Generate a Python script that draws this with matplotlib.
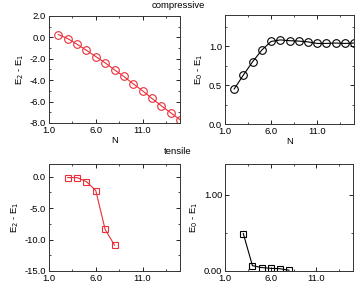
import numpy as np
import matplotlib
matplotlib.use("Agg")
import matplotlib.pyplot as plt
from matplotlib.ticker import FixedLocator, MultipleLocator, FormatStrFormatter

plt.rcParams['font.family'] = ['Liberation Sans', 'DejaVu Sans']
plt.rcParams['font.size'] = 6.8

# compressive
n_comp = [2, 3, 4, 5, 6, 7, 8, 9, 10, 11, 12, 13, 14, 15]
e21_comp = [0.26, -0.11, -0.64, -1.2, -1.79, -2.38, -3.03, -3.65, -4.34, -4.99,
            -5.7, -6.39, -7.04, -7.69]
e01_comp = [0.45, 0.63, 0.80, 0.95, 1.06, 1.08, 1.07, 1.065, 1.055, 1.035,
            1.035, 1.04, 1.035, 1.04]

# tensile
n_tens = [3, 4, 5, 6, 7, 8]
e21_tens = [-0.16, -0.16, -0.8, -2.23, -8.4, -10.9]
e01_tens = [0.49, 0.07, 0.045, 0.035, 0.03, 0.01]

x_ticks = [1, 6, 11]

W, H = 356, 286
fig = plt.figure(figsize=(W / 100, H / 100), dpi=100)


def box(x0, y0, x1, y1):
    return [x0 / W, 1 - y1 / H, (x1 - x0) / W, (y1 - y0) / H]


def style(ax, ylim, ymaj, ymin, yfmt):
    ax.set_xlim(1, 15)
    ax.set_ylim(*ylim)
    ax.xaxis.set_major_locator(FixedLocator(x_ticks))
    ax.xaxis.set_minor_locator(FixedLocator([3.5, 8.5, 13.5]))
    ax.xaxis.set_major_formatter(FormatStrFormatter('%.1f'))
    ax.yaxis.set_major_locator(MultipleLocator(ymaj))
    ax.yaxis.set_minor_locator(MultipleLocator(ymin))
    ax.yaxis.set_major_formatter(FormatStrFormatter(yfmt))
    ax.tick_params(which='both', direction='in', top=True, right=True,
                   labelsize=6.8, pad=2)
    ax.tick_params(which='major', length=3, width=0.6)
    ax.tick_params(which='minor', length=1.5, width=0.5)
    for s in ax.spines.values():
        s.set_linewidth(0.7)
        s.set_color('#333333')


red = '#e8303a'

ax1 = fig.add_axes(box(49, 16, 180, 123))
ax1.plot(n_comp, e21_comp, '-o', color=red, mfc='none', ms=5.5, lw=0.8, mew=0.8)
style(ax1, (-8, 2), 2, 1, '%.1f')
ax1.set_ylabel('E$_2$ - E$_1$', labelpad=3)
ax1.set_xlabel('N', labelpad=1)

ax2 = fig.add_axes(box(225, 15, 354, 124))
ax2.plot(n_comp, e01_comp, '-o', color='black', mfc='none', ms=5.5, lw=0.8, mew=0.8)
style(ax2, (0, 1.4), 0.5, 0.25, '%.1f')
ax2.set_ylabel('E$_0$ - E$_1$', labelpad=3)
ax2.set_xlabel('N', labelpad=1)

ax3 = fig.add_axes(box(49, 164, 180, 271))
ax3.plot(n_tens, e21_tens, '-s', color=red, mfc='none', ms=5, lw=0.8, mew=0.8)
style(ax3, (-15, 2), 5, 2.5, '%.1f')
ax3.set_ylabel('E$_2$ - E$_1$', labelpad=3)

ax4 = fig.add_axes(box(225, 164, 353, 271))
ax4.plot(n_tens, e01_tens, '-s', color='black', mfc='none', ms=5, lw=0.8, mew=0.8)
style(ax4, (0, 1.4), 1, 0.5, '%.2f')
ax4.set_ylabel('E$_0$ - E$_1$', labelpad=3)

fig.text(178 / W, 1 - 5 / H, 'compressive', ha='center', va='center', fontsize=6.8)
fig.text(178 / W, 1 - 151 / H, 'tensile', ha='center', va='center', fontsize=6.8)

fig.savefig('out.png', dpi=100)
